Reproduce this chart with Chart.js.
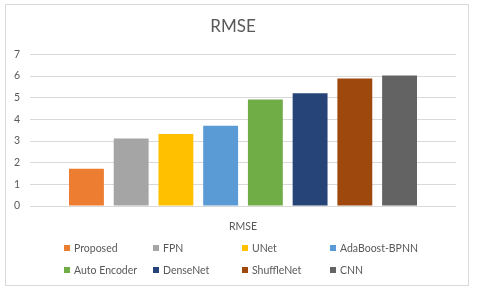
<!DOCTYPE html>
<html>
<head>
<meta charset="utf-8">
<script src="https://cdn.jsdelivr.net/npm/chart.js@4"></script>
<style>
  html, body { margin: 0; padding: 0; background: #ffffff; }
  #wrap { position: relative; width: 480px; height: 295px; overflow: hidden; }
  #frame { position: absolute; left: 5px; top: 4px; width: 464px; height: 282px; border: 1px solid #d9d9d9; box-sizing: border-box; pointer-events: none; }
  canvas { position: absolute; left: 0; top: 0; }
  #legend { position: absolute; left: 0; top: 0; width: 480px; height: 295px; pointer-events: none;
            font-family: Lato, "Open Sans", sans-serif; font-size: 10.5px; color: #595959; }
  .item { position: absolute; white-space: nowrap; line-height: 12px; }
  .box { display: inline-block; width: 6px; height: 6px; margin-right: 4px; vertical-align: 1px; }
</style>
</head>
<body>
<div id="wrap">
  <canvas id="c" width="480" height="295"></canvas>
  <div id="frame"></div>
  <div id="legend"></div>
</div>
<script>
const categories = ['RMSE'];
const seriesNames = ['Proposed', 'FPN', 'UNet', 'AdaBoost-BPNN', 'Auto Encoder', 'DenseNet', 'ShuffleNet', 'CNN'];
const seriesValues = [1.72, 3.12, 3.32, 3.70, 4.92, 5.21, 5.89, 6.02];
const yTicks = [0, 1, 2, 3, 4, 5, 6, 7];
const chartTitle = 'RMSE';

const seriesColors = ['#ED7D31', '#A5A5A5', '#FFC000', '#5B9BD5', '#70AD47', '#264478', '#9E480E', '#636363'];
const textColor = '#595959';
const fontFamily = 'Lato, "Open Sans", sans-serif';

const datasets = seriesNames.map((name, i) => ({
  label: name,
  data: [seriesValues[i]],
  backgroundColor: seriesColors[i],
  borderWidth: 0,
  categoryPercentage: 0.84,
  barPercentage: 0.78
}));

new Chart(document.getElementById('c'), {
  type: 'bar',
  data: { labels: categories, datasets },
  options: {
    responsive: false,
    animation: false,
    layout: { padding: { left: 10, right: 24, top: 5, bottom: 63 } },
    plugins: {
      legend: { display: false },
      tooltip: { enabled: false },
      title: {
        display: true,
        text: chartTitle,
        color: textColor,
        font: { family: fontFamily, size: 17, weight: 'normal' },
        padding: { top: 11, bottom: 18 }
      }
    },
    scales: {
      x: {
        grid: { display: false },
        border: { display: false },
        ticks: { color: textColor, font: { family: fontFamily, size: 10.5 }, padding: 6 },
        afterFit: s => { s.height = 26; }
      },
      y: {
        min: yTicks[0],
        max: yTicks[yTicks.length - 1],
        afterBuildTicks: s => { s.ticks = yTicks.map(v => ({ value: v })); },
        grid: { color: '#d9d9d9', lineWidth: 1, drawTicks: false },
        border: { display: false },
        ticks: { color: textColor, font: { family: fontFamily, size: 10.5 }, padding: 10 },
        afterFit: s => { s.width = 20; }
      }
    }
  }
});

// Legend (Excel-style fixed columns)
const legend = document.getElementById('legend');
const colX = [64, 153, 242, 330];
const rowY = [242, 264];
seriesNames.forEach((name, i) => {
  const d = document.createElement('div');
  d.className = 'item';
  d.style.left = colX[i % 4] + 'px';
  d.style.top = rowY[Math.floor(i / 4)] + 'px';
  const b = document.createElement('span');
  b.className = 'box';
  b.style.background = seriesColors[i];
  d.appendChild(b);
  d.appendChild(document.createTextNode(name));
  legend.appendChild(d);
});
</script>
</body>
</html>
